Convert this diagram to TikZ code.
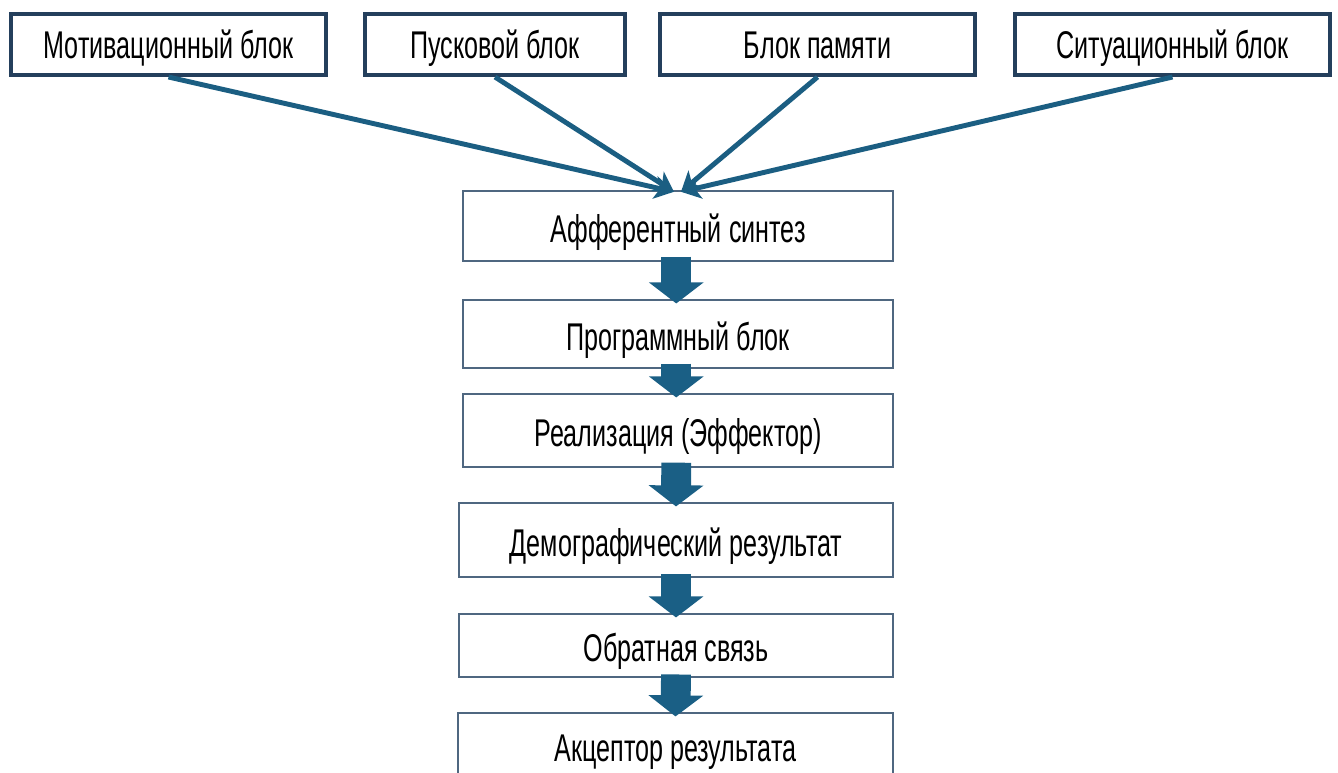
\documentclass[tikz,border=0pt]{standalone}
\usepackage{fontspec}
\setmainfont{Liberation Sans}[FakeStretch=0.65]
\usetikzlibrary{arrows.meta}
\definecolor{boxnavy}{HTML}{243F5C}
\definecolor{boxgrey}{HTML}{4F6780}
\definecolor{linkblue}{HTML}{1B5E82}
\definecolor{fatblue}{HTML}{1A5F85}

\begin{document}
\begin{tikzpicture}[x=0.02cm,y=-0.02cm]
    \tikzset{topblock/.style = {shape=rectangle,draw=boxnavy,line width=2.3pt,fill=white,
        inner sep=0pt,text height=16pt,text depth=0pt,
        minimum width=6.3cm,minimum height=1.22cm,font=\fontsize{22pt}{26pt}\selectfont}}
    \tikzset{stage/.style = {shape=rectangle,draw=boxgrey,line width=1.1pt,fill=white,
        inner sep=0pt,text height=18.5pt,text depth=0pt,
        minimum width=8.6cm,font=\fontsize{22pt}{26pt}\selectfont}}
    \tikzset{link/.style = {draw=linkblue,line width=2.8pt,-{Stealth[length=11pt,width=13pt,inset=3pt]}}}
    \tikzset{fat/.style = {draw=fatblue,line width=17pt,-{Triangle[length=12pt,width=30.6pt]}}}
    \useasboundingbox (0,0) rectangle (1338,772);
    \clip (0,0) rectangle (1338,772);
    % top blocks
    \node[topblock] (t1) at (168.5,44.5) {Мотивационный блок};
    \node[topblock,minimum width=5.2cm] (t2) at (495,44.5) {Пусковой блок};
    \node[topblock] (t3) at (817.5,44.5) {Блок памяти};
    \node[topblock] (t4) at (1172.5,44.5) {Ситуационный блок};
%%%%%%%%%%%%%%%%%
    \node[stage,minimum height=1.4cm] (b1) at (678,226) {Афферентный синтез};
    \node[stage,minimum height=1.36cm] (b2) at (678,334) {Программный блок};
    \node[stage,minimum height=1.46cm] (b3) at (678,430.5) {Реализация (Эффектор)};
    \node[stage,minimum width=8.68cm,minimum height=1.48cm] (b4) at (676,540) {Демографический результат};
    \node[stage,minimum width=8.68cm,minimum height=1.26cm] (b5) at (676,645.5) {Обратная связь};
    \node[stage,minimum width=8.7cm,minimum height=1.28cm] (b6) at (675.5,745) {Акцептор результата};
%%%%%%%%%%%%%%%%%
    \draw[link] (t1.south) -- ([xshift=-2.3pt,yshift=-1pt]b1.north);
    \draw[link] (t2.south) -- ([xshift=-2.3pt,yshift=-1pt]b1.north);
    \draw[link] (t3.south) -- ([xshift=1.7pt,yshift=-1pt]b1.north);
    \draw[link] (t4.south) -- ([xshift=1.7pt,yshift=-1pt]b1.north);
%%%%%%%%%%%%%%%%%
    \draw[fat] ([xshift=-1pt,yshift=3pt]b1.south) -- ([xshift=-1pt,yshift=-2.5pt]b2.north);
    \draw[fat] ([xshift=-1pt,yshift=3pt]b2.south) -- ([xshift=-1pt,yshift=-2.5pt]b3.north);
    \draw[fat] ([xshift=-1pt,yshift=3pt]b3.south) -- ([xshift=0pt,yshift=-2.5pt]b4.north);
    \draw[fat] ([yshift=2pt]b4.south) -- ([yshift=-2.5pt]b5.north);
    \draw[fat] ([yshift=2pt]b5.south) -- ([yshift=-2.5pt]b6.north);

\end{tikzpicture}
\end{document}
